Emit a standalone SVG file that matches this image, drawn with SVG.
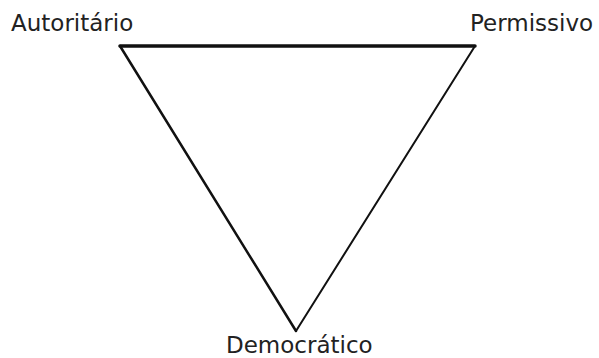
<svg xmlns="http://www.w3.org/2000/svg" width="599" height="358" viewBox="0 0 599 358">
<style>
.lbl{font-family:"DejaVu Sans","Liberation Sans",sans-serif;font-size:23px;fill:#222}
.edge{stroke:#111;fill:none;stroke-linecap:round}
</style>
<rect width="599" height="358" fill="#fff"/>
<g id="connectors">
<line class="edge" x1="120" y1="46" x2="475" y2="46" stroke-width="3.5"/>
<line class="edge" x1="120" y1="46" x2="296" y2="331" stroke-width="2.5"/>
<line class="edge" x1="475" y1="46" x2="296" y2="331" stroke-width="2"/>
</g>
<g id="autoritario"><text class="lbl" x="11" y="31">Autoritário</text></g>
<g id="permissivo"><text class="lbl" x="470" y="31">Permissivo</text></g>
<g id="democratico"><text class="lbl" x="226" y="353">Democrático</text></g>
</svg>
